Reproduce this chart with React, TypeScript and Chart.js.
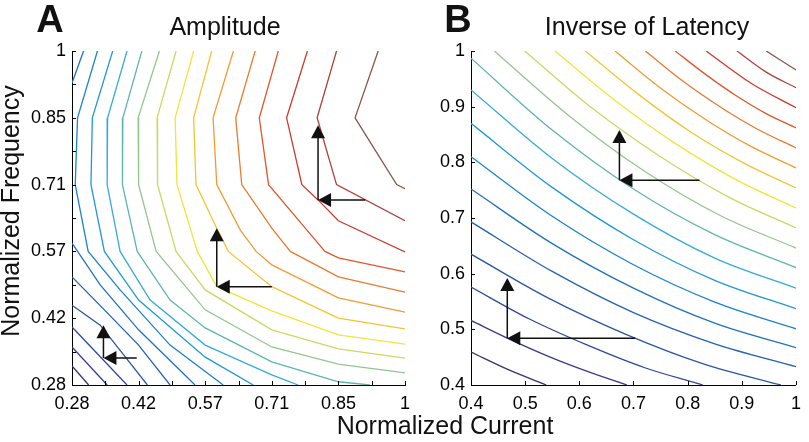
import React, { useEffect, useRef } from 'react';
import { Chart, registerables } from 'chart.js';

Chart.register(...registerables);

const FONT = "'Liberation Sans', Arial, Helvetica, sans-serif";
const W = 809;
const H = 442;

type Pt = [number, number];

// 20-step contour colour map (lowest -> highest level)
const LEVEL_COLORS = [
  '#3d2f72', '#3a3a8c', '#30479b', '#2a55a8', '#2462b3',
  '#1f72bf', '#1b84cb', '#1f99d5', '#35acd8', '#5fb6ad',
  '#95c58f', '#cbd862', '#f3e33a', '#f5c431', '#f09c31',
  '#e97b2e', '#e0582b', '#cd3b2b', '#ad4339', '#8b5647',
];

// ---------- Panel A : Amplitude ----------
const A_TICKS = [0.28, 0.352, 0.424, 0.496, 0.568, 0.64, 0.712, 0.784, 0.856, 0.928, 1.0];
const A_TICK_LABELS = ['0.28', '', '0.42', '', '0.57', '', '0.71', '', '0.85', '', '1'];

const A_C01: Pt[] = [[0.28, 0.321], [0.316, 0.28]];
const A_C02: Pt[] = [[0.28, 0.362], [0.356, 0.28]];
const A_C03: Pt[] = [[0.28, 0.405], [0.399, 0.28]];
const A_C04: Pt[] = [[0.28, 0.452], [0.341, 0.409], [0.443, 0.28]];
const A_C05: Pt[] = [[0.28, 0.513], [0.35, 0.442], [0.424, 0.366], [0.492, 0.28]];
const A_C06a: Pt[] = [[0.305, 1.0], [0.28, 0.931]];
const A_C06b: Pt[] = [[0.28, 0.586], [0.341, 0.496], [0.424, 0.399], [0.546, 0.28]];
const A_C07: Pt[] = [[0.335, 1], [0.292, 0.856], [0.287, 0.712], [0.315, 0.568], [0.384, 0.485], [0.492, 0.366], [0.607, 0.28]];
const A_C08: Pt[] = [[0.368, 1], [0.324, 0.856], [0.321, 0.712], [0.35, 0.568], [0.424, 0.463], [0.568, 0.34], [0.672, 0.28]];
const A_C09: Pt[] = [[0.399, 1], [0.357, 0.856], [0.356, 0.712], [0.384, 0.568], [0.449, 0.463], [0.568, 0.366], [0.712, 0.302], [0.769, 0.28]];
const A_C10: Pt[] = [[0.431, 1], [0.39, 0.856], [0.389, 0.712], [0.421, 0.568], [0.492, 0.463], [0.568, 0.403], [0.712, 0.33], [0.856, 0.287], [0.924, 0.28]];
const A_C11: Pt[] = [[0.469, 1], [0.423, 0.856], [0.424, 0.712], [0.462, 0.568], [0.568, 0.442], [0.712, 0.362], [0.856, 0.325], [1.0, 0.306]];
const A_C12: Pt[] = [[0.505, 1], [0.464, 0.856], [0.465, 0.712], [0.505, 0.568], [0.568, 0.485], [0.712, 0.399], [0.856, 0.358], [1.0, 0.338]];
const A_C13: Pt[] = [[0.543, 1], [0.503, 0.856], [0.507, 0.712], [0.551, 0.568], [0.593, 0.492], [0.712, 0.44], [0.856, 0.388], [1.0, 0.368]];
const A_C14: Pt[] = [[0.582, 1], [0.543, 0.856], [0.548, 0.712], [0.593, 0.618], [0.618, 0.568], [0.712, 0.492], [0.856, 0.424], [1.0, 0.401]];
const A_C15: Pt[] = [[0.629, 1], [0.585, 0.856], [0.593, 0.712], [0.644, 0.614], [0.678, 0.568], [0.712, 0.539], [0.856, 0.468], [1.0, 0.437]];
const A_C16: Pt[] = [[0.676, 1], [0.634, 0.856], [0.647, 0.712], [0.712, 0.618], [0.752, 0.568], [0.856, 0.513], [1.0, 0.48]];
const A_C17: Pt[] = [[0.726, 1], [0.685, 0.856], [0.705, 0.712], [0.788, 0.614], [0.827, 0.568], [0.856, 0.554], [1.0, 0.524]];
const A_C18: Pt[] = [[0.789, 1], [0.744, 0.856], [0.777, 0.712], [0.812, 0.679], [0.856, 0.634], [1.0, 0.567]];
const A_C19: Pt[] = [[0.852, 1], [0.81, 0.856], [0.852, 0.712], [1.0, 0.634]];
const A_C20: Pt[] = [[0.942, 1], [0.892, 0.856], [0.982, 0.712], [1.0, 0.703]];

const A_CONTOURS: { level: number; pts: Pt[] }[] = [
  { level: 1, pts: A_C01 }, { level: 2, pts: A_C02 }, { level: 3, pts: A_C03 },
  { level: 4, pts: A_C04 }, { level: 5, pts: A_C05 }, { level: 6, pts: A_C06a },
  { level: 6, pts: A_C06b }, { level: 7, pts: A_C07 }, { level: 8, pts: A_C08 },
  { level: 9, pts: A_C09 }, { level: 10, pts: A_C10 }, { level: 11, pts: A_C11 },
  { level: 12, pts: A_C12 }, { level: 13, pts: A_C13 }, { level: 14, pts: A_C14 },
  { level: 15, pts: A_C15 }, { level: 16, pts: A_C16 }, { level: 17, pts: A_C17 },
  { level: 18, pts: A_C18 }, { level: 19, pts: A_C19 }, { level: 20, pts: A_C20 },
];

const A_ARROW_CORNERS: Pt[] = [[0.348, 0.338], [0.593, 0.492], [0.812, 0.679]];
const A_ARROW_TIPS_Y = [0.409, 0.618, 0.84];
const A_ARROW_TAILS_X = [0.42, 0.712, 0.914];

// ---------- Panel B : Inverse of Latency ----------
const B_TICKS = [0.4, 0.5, 0.6, 0.7, 0.8, 0.9, 1.0];
const B_TICK_LABELS = ['0.4', '0.5', '0.6', '0.7', '0.8', '0.9', '1'];

const B_C01: Pt[] = [[0.4, 0.459], [0.47, 0.427], [0.539, 0.4]];
const B_C02: Pt[] = [[0.4, 0.516], [0.472, 0.482], [0.544, 0.451], [0.616, 0.424], [0.688, 0.4]];
const B_C03: Pt[] = [[0.4, 0.576], [0.507, 0.519], [0.614, 0.472], [0.721, 0.431], [0.828, 0.4]];
const B_C04: Pt[] = [[0.4, 0.635], [0.543, 0.556], [0.686, 0.491], [0.829, 0.438], [0.972, 0.4]];
const B_C05: Pt[] = [[0.4, 0.693], [0.55, 0.604], [0.7, 0.53], [0.85, 0.474], [1.0, 0.433]];
const B_C06: Pt[] = [[0.4, 0.752], [0.55, 0.654], [0.7, 0.574], [0.85, 0.511], [1.0, 0.467]];
const B_C07: Pt[] = [[0.4, 0.81], [0.55, 0.703], [0.7, 0.616], [0.85, 0.549], [1.0, 0.501]];
const B_C08: Pt[] = [[0.4, 0.87], [0.55, 0.755], [0.7, 0.661], [0.85, 0.588], [1.0, 0.537]];
const B_C09: Pt[] = [[0.4, 0.93], [0.55, 0.807], [0.7, 0.707], [0.85, 0.628], [1.0, 0.574]];
const B_C10: Pt[] = [[0.4, 0.987], [0.55, 0.858], [0.7, 0.752], [0.85, 0.67], [1.0, 0.611]];
const B_C11: Pt[] = [[0.443, 1.0], [0.583, 0.882], [0.722, 0.783], [0.861, 0.704], [1.0, 0.646]];
const B_C12: Pt[] = [[0.499, 1.0], [0.624, 0.897], [0.75, 0.81], [0.875, 0.738], [1.0, 0.682]];
const B_C13: Pt[] = [[0.555, 1.0], [0.666, 0.911], [0.777, 0.834], [0.889, 0.769], [1.0, 0.718]];
const B_C14: Pt[] = [[0.611, 1.0], [0.708, 0.923], [0.805, 0.855], [0.903, 0.799], [1.0, 0.754]];
const B_C15: Pt[] = [[0.666, 1.0], [0.749, 0.934], [0.833, 0.877], [0.916, 0.829], [1.0, 0.79]];
const B_C16: Pt[] = [[0.722, 1.0], [0.791, 0.946], [0.861, 0.899], [0.93, 0.859], [1.0, 0.826]];
const B_C17: Pt[] = [[0.777, 1.0], [0.833, 0.958], [0.889, 0.92], [0.944, 0.888], [1.0, 0.862]];
const B_C18: Pt[] = [[0.834, 1.0], [0.917, 0.942], [1.0, 0.898]];
const B_C19: Pt[] = [[0.891, 1.0], [0.945, 0.962], [1.0, 0.934]];
const B_C20: Pt[] = [[0.945, 1.0], [1.0, 0.966]];

const B_CONTOURS: { level: number; pts: Pt[] }[] = [
  { level: 1, pts: B_C01 }, { level: 2, pts: B_C02 }, { level: 3, pts: B_C03 },
  { level: 4, pts: B_C04 }, { level: 5, pts: B_C05 }, { level: 6, pts: B_C06 },
  { level: 7, pts: B_C07 }, { level: 8, pts: B_C08 }, { level: 9, pts: B_C09 },
  { level: 10, pts: B_C10 }, { level: 11, pts: B_C11 }, { level: 12, pts: B_C12 },
  { level: 13, pts: B_C13 }, { level: 14, pts: B_C14 }, { level: 15, pts: B_C15 },
  { level: 16, pts: B_C16 }, { level: 17, pts: B_C17 }, { level: 18, pts: B_C18 },
  { level: 19, pts: B_C19 }, { level: 20, pts: B_C20 },
];

const B_ARROW_CORNERS: Pt[] = [[0.467, 0.484], [0.674, 0.768]];
const B_ARROW_TIPS_Y = [0.592, 0.858];
const B_ARROW_TAILS_X = [0.703, 0.822];

// ---------- helpers ----------
function makeDatasets(contours: { level: number; pts: Pt[] }[], smooth: boolean) {
  return contours.map((c) => ({
    data: c.pts.map(([x, y]) => ({ x, y })),
    showLine: true,
    borderColor: LEVEL_COLORS[c.level - 1],
    borderWidth: 1.3,
    pointRadius: 0,
    pointHoverRadius: 0,
    fill: false,
    tension: 0,
    cubicInterpolationMode: smooth ? 'monotone' : 'default',
  }));
}

function axis(ticks: number[], labels: string[], min: number, max: number, isX: boolean) {
  return {
    type: 'linear',
    min,
    max,
    afterBuildTicks: (s: any) => {
      s.ticks = ticks.map((v) => ({ value: v }));
    },
    afterFit: (s: any) => {
      if (isX) s.height = 30;
      else s.width = 72;
    },
    grid: { display: false, drawTicks: false },
    border: { display: true, color: '#000', width: 1 },
    ticks: {
      autoSkip: false,
      maxRotation: 0,
      minRotation: 0,
      padding: isX ? 8 : 6,
      color: '#000',
      font: { family: FONT, size: 18 },
      callback: (_v: any, i: number) => labels[i],
    },
  };
}

function drawInwardTicks(chart: any) {
  const { ctx, chartArea, scales } = chart;
  ctx.save();
  ctx.strokeStyle = '#000';
  ctx.lineWidth = 1;
  ctx.beginPath();
  scales.x.ticks.forEach((t: any) => {
    const px = Math.round(scales.x.getPixelForValue(t.value)) + 0.5;
    ctx.moveTo(px, chartArea.bottom);
    ctx.lineTo(px, chartArea.bottom - 4);
  });
  scales.y.ticks.forEach((t: any) => {
    const py = Math.round(scales.y.getPixelForValue(t.value)) + 0.5;
    ctx.moveTo(chartArea.left, py);
    ctx.lineTo(chartArea.left + 4, py);
  });
  ctx.stroke();
  ctx.restore();
}

function drawArrows(chart: any, corners: Pt[], tipsY: number[], tailsX: number[]) {
  const { ctx } = chart;
  const xs = chart.scales.x;
  const ys = chart.scales.y;
  ctx.save();
  ctx.strokeStyle = '#111';
  ctx.fillStyle = '#111';
  ctx.lineWidth = 1.5;
  corners.forEach(([cxv, cyv], i) => {
    const cx = xs.getPixelForValue(cxv);
    const cy = ys.getPixelForValue(cyv);
    const ty = ys.getPixelForValue(tipsY[i]);
    const tx = xs.getPixelForValue(tailsX[i]);
    ctx.beginPath();
    ctx.moveTo(cx, cy);
    ctx.lineTo(cx, ty + 10);
    ctx.moveTo(tx, cy);
    ctx.lineTo(cx + 10, cy);
    ctx.stroke();
    ctx.beginPath();
    ctx.moveTo(cx, ty);
    ctx.lineTo(cx - 7, ty + 13);
    ctx.lineTo(cx + 7, ty + 13);
    ctx.closePath();
    ctx.fill();
    ctx.beginPath();
    ctx.moveTo(cx, cy);
    ctx.lineTo(cx + 13, cy - 7);
    ctx.lineTo(cx + 13, cy + 7);
    ctx.closePath();
    ctx.fill();
  });
  ctx.restore();
}

function drawText(ctx: CanvasRenderingContext2D, text: string, x: number, y: number, font: string, rotate = 0) {
  ctx.save();
  ctx.fillStyle = '#111';
  ctx.font = font;
  ctx.textAlign = 'center';
  ctx.textBaseline = 'alphabetic';
  ctx.translate(x, y);
  if (rotate) ctx.rotate(rotate);
  ctx.fillText(text, 0, 0);
  ctx.restore();
}

const panelAPlugin = {
  id: 'panelA',
  afterDraw(chart: any) {
    drawInwardTicks(chart);
    drawArrows(chart, A_ARROW_CORNERS, A_ARROW_TIPS_Y, A_ARROW_TAILS_X);
    const ctx = chart.ctx;
    drawText(ctx, 'A', 50, 32, `bold 38px ${FONT}`);
    drawText(ctx, 'Amplitude', 225, 35, `25px ${FONT}`);
    drawText(ctx, 'Normalized Frequency', 19, 211, `25px ${FONT}`, -Math.PI / 2);
    drawText(ctx, 'Normalized Current', 445, 434, `25px ${FONT}`);
  },
};

const panelBPlugin = {
  id: 'panelB',
  afterDraw(chart: any) {
    drawInwardTicks(chart);
    drawArrows(chart, B_ARROW_CORNERS, B_ARROW_TIPS_Y, B_ARROW_TAILS_X);
    const ctx = chart.ctx;
    drawText(ctx, 'B', 458, 32, `bold 38px ${FONT}`);
    drawText(ctx, 'Inverse of Latency', 647, 35, `25px ${FONT}`);
  },
};

function makeConfig(panel: 'A' | 'B'): any {
  const isA = panel === 'A';
  return {
    type: 'scatter',
    data: {
      datasets: isA ? makeDatasets(A_CONTOURS, false) : makeDatasets(B_CONTOURS, true),
    },
    options: {
      responsive: false,
      maintainAspectRatio: false,
      animation: false,
      devicePixelRatio: 1,
      events: [],
      layout: {
        padding: isA
          ? { left: 0, right: 404, top: 51, bottom: 27 }
          : { left: 399, right: 5, top: 51, bottom: 27 },
      },
      plugins: { legend: { display: false }, tooltip: { enabled: false }, title: { display: false } },
      scales: isA
        ? { x: axis(A_TICKS, A_TICK_LABELS, 0.28, 1, true), y: axis(A_TICKS, A_TICK_LABELS, 0.28, 1, false) }
        : { x: axis(B_TICKS, B_TICK_LABELS, 0.4, 1, true), y: axis(B_TICKS, B_TICK_LABELS, 0.4, 1, false) },
    },
    plugins: [isA ? panelAPlugin : panelBPlugin],
  };
}

export default function App() {
  const refA = useRef<HTMLCanvasElement>(null);
  const refB = useRef<HTMLCanvasElement>(null);

  useEffect(() => {
    const a = new Chart(refA.current as HTMLCanvasElement, makeConfig('A'));
    const b = new Chart(refB.current as HTMLCanvasElement, makeConfig('B'));
    return () => {
      a.destroy();
      b.destroy();
    };
  }, []);

  const cs: React.CSSProperties = { position: 'absolute', left: 0, top: 0, width: W, height: H };
  return (
    <div style={{ position: 'fixed', left: 0, top: 0, width: W, height: H, background: '#fff' }}>
      <canvas ref={refA} width={W} height={H} style={cs} />
      <canvas ref={refB} width={W} height={H} style={cs} />
    </div>
  );
}
